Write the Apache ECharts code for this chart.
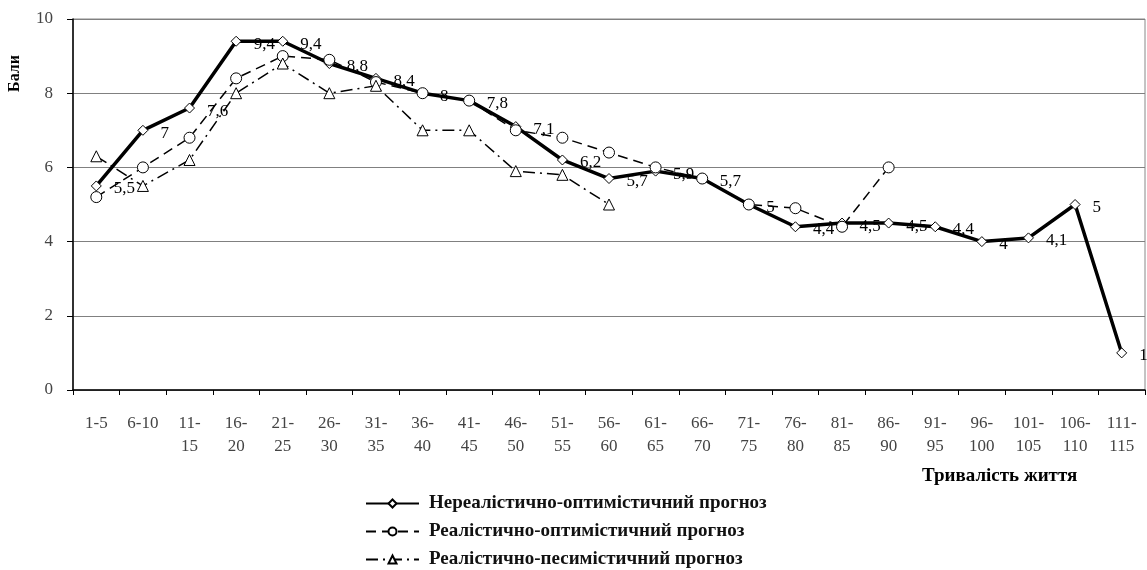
<!DOCTYPE html>
<html>
<head>
<meta charset="utf-8">
<script src="https://cdn.jsdelivr.net/npm/echarts@6/dist/echarts.min.js"></script>
<style>html,body{margin:0;padding:0;background:#fff}#c{width:1147px;height:570px}</style>
</head>
<body>
<div id="c"></div>
<script>
const categories = ['1-5','6-10','11-\n15','16-\n20','21-\n25','26-\n30','31-\n35','36-\n40','41-\n45','46-\n50','51-\n55','56-\n60','61-\n65','66-\n70','71-\n75','76-\n80','81-\n85','86-\n90','91-\n95','96-\n100','101-\n105','106-\n110','111-\n115'];
const seriesNames = ['Нереалістично-оптимістичний прогноз','Реалістично-оптимістичний прогноз','Реалістично-песимістичний прогноз'];
const unrealOpt = [5.5,7,7.6,9.4,9.4,8.8,8.4,8,7.8,7.1,6.2,5.7,5.9,5.7,5,4.4,4.5,4.5,4.4,4,4.1,5,1];
const realOpt = [5.2,6.0,6.8,8.4,9.0,8.9,8.3,8.0,7.8,7.0,6.8,6.4,6.0,5.7,5.0,4.9,4.4,6.0,null,null,null,null,null];
const realPess = [6.3,5.5,6.2,8.0,8.8,8.0,8.2,7.0,7.0,5.9,5.8,5.0,null,null,null,null,null,null,null,null,null,null,null];
const yTicks = {min:0, max:10, interval:2};
const yTitle = 'Бали';
const xTitle = 'Тривалість життя';

const serif = '"Liberation Serif", "DejaVu Serif", serif';
const chart = echarts.init(document.getElementById('c'), null, {renderer:'canvas'});
chart.setOption({
  animation:false,
  backgroundColor:'#fff',
  grid:{left:73, right:2, top:19, bottom:180, show:true, borderColor:'#888', borderWidth:1},
  xAxis:{
    type:'category', data:categories, boundaryGap:true,
    axisLine:{lineStyle:{color:'#000', width:1.5}},
    axisTick:{show:true, length:5, lineStyle:{color:'#000'}},
    axisLabel:{interval:0, fontFamily:serif, fontSize:17, color:'#444', lineHeight:23, margin:22}
  },
  yAxis:{
    type:'value', min:yTicks.min, max:yTicks.max, interval:yTicks.interval,
    axisLine:{show:true, lineStyle:{color:'#000', width:1.5}},
    axisTick:{show:true, length:6, lineStyle:{color:'#000'}},
    axisLabel:{fontFamily:serif, fontSize:17, color:'#444', margin:20},
    splitLine:{lineStyle:{color:'#808080', width:1}}
  },
  legend:{
    orient:'vertical', left:365, top:494, height:90, padding:0, itemWidth:53, itemHeight:10, itemGap:9,
    textStyle:{fontFamily:serif, fontSize:19, fontWeight:'bold', color:'#111', padding:[0,0,0,5]},
    data:seriesNames
  },
  graphic:[
    {type:'text', left:7, top:55, rotation:Math.PI/2, style:{text:yTitle, font:'bold 16px '+serif, fill:'#000'}},
    {type:'text', left:922, top:467, style:{text:xTitle, font:'bold 19px '+serif, fill:'#000'}}
  ],
  series:[
    {
      name:seriesNames[0], type:'line', data:unrealOpt, z:3,
      symbol:'diamond', symbolSize:10,
      lineStyle:{color:'#000', width:3.5},
      itemStyle:{color:'#fff', borderColor:'#000', borderWidth:1},
      label:{show:true, position:'right', distance:12, offset:[0,3], fontFamily:serif, fontSize:17, color:'#000',
        formatter:p=>String(p.value).replace('.',',')}
    },
    {
      name:seriesNames[1], type:'line', data:realOpt, z:4,
      symbol:'circle', symbolSize:11,
      lineStyle:{color:'#000', width:1.5, type:[10,6]},
      itemStyle:{color:'#fff', borderColor:'#000', borderWidth:1}
    },
    {
      name:seriesNames[2], type:'line', data:realPess, z:4,
      symbol:'triangle', symbolSize:11,
      lineStyle:{color:'#000', width:1.5, type:[12,5,2,5]},
      itemStyle:{color:'#fff', borderColor:'#000', borderWidth:1}
    }
  ]
});
</script>
</body>
</html>
